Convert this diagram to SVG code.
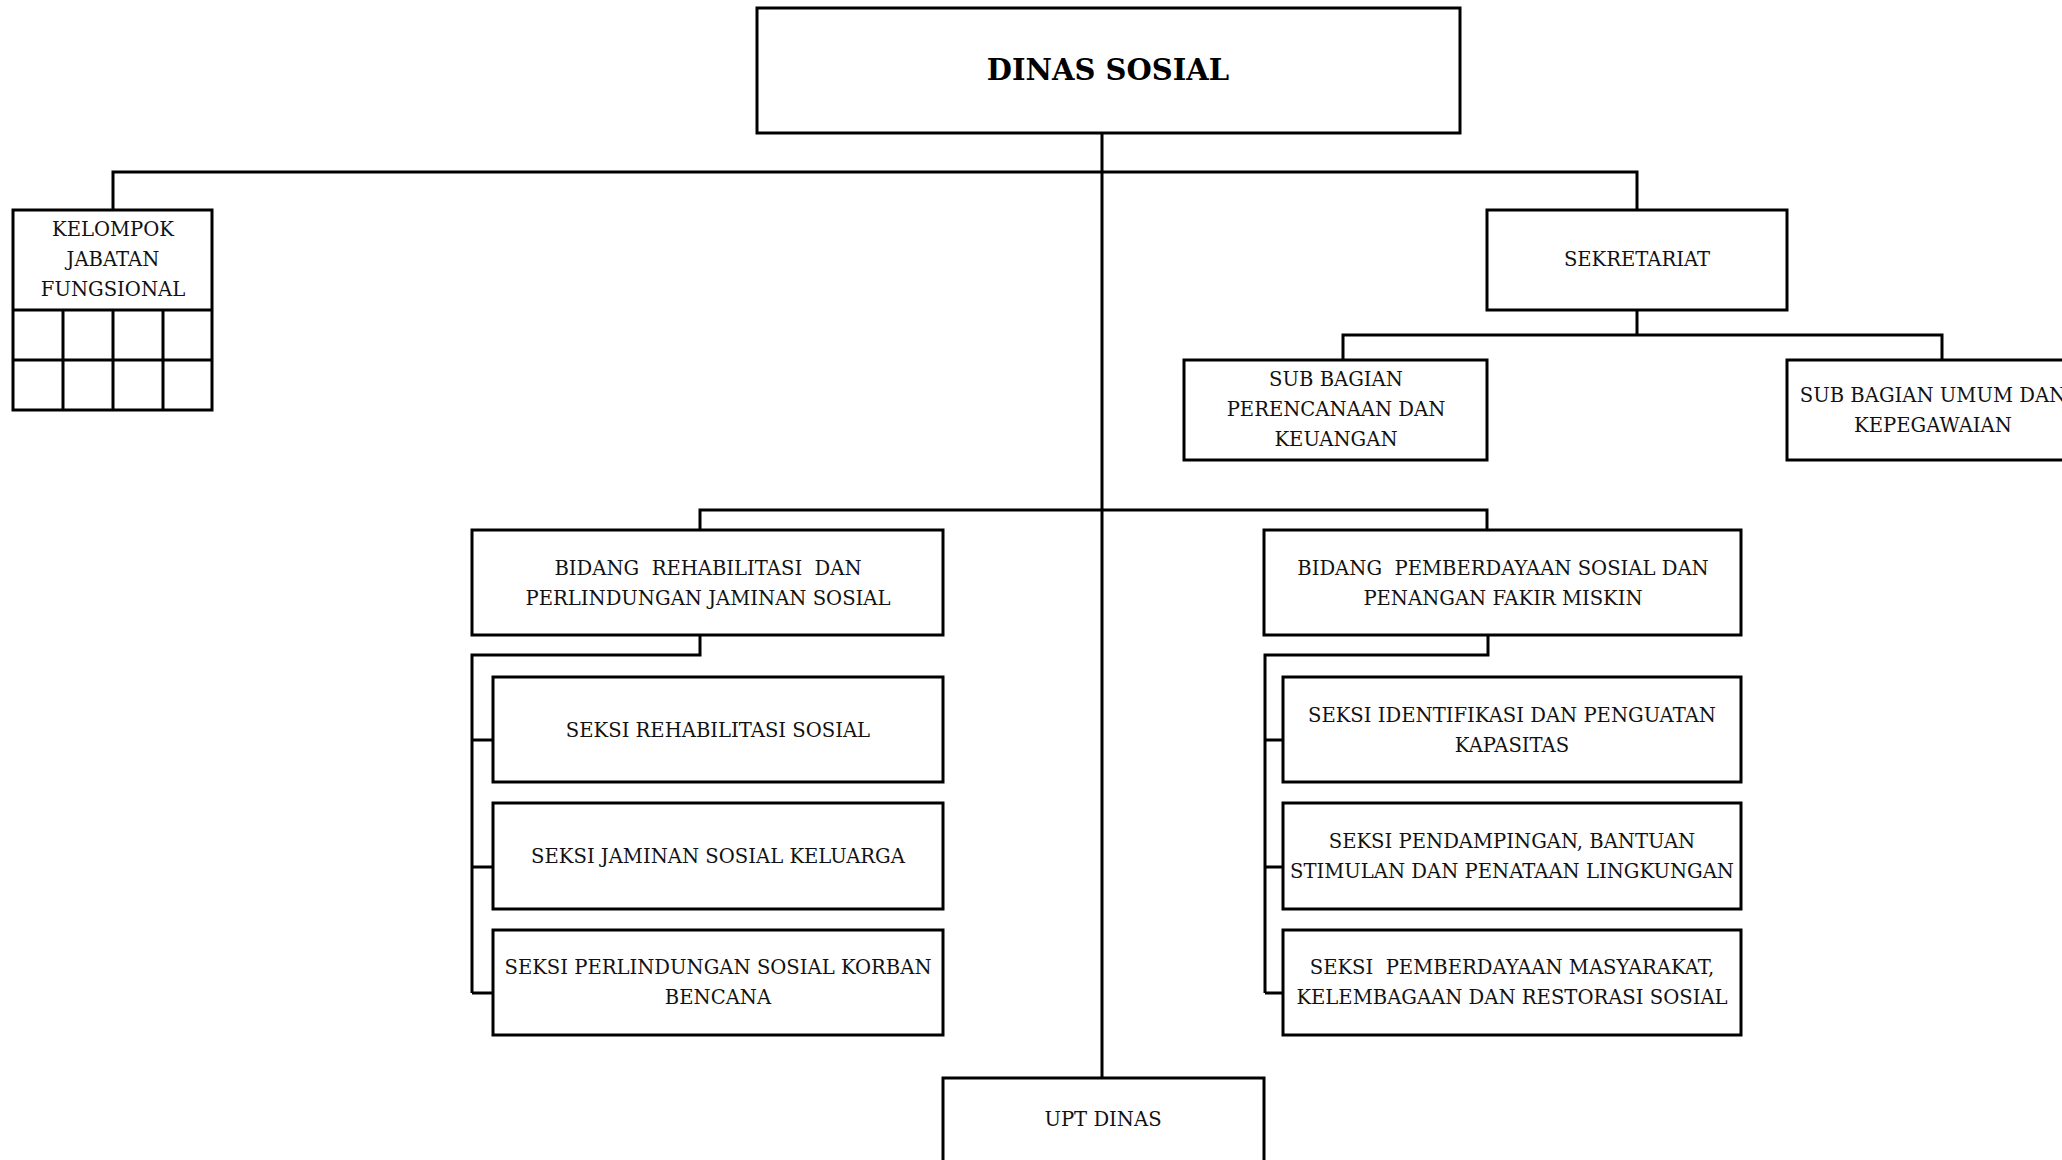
<svg xmlns="http://www.w3.org/2000/svg" width="2062" height="1160" viewBox="0 0 2062 1160">
<style>
.box{fill:#fff;stroke:#000;stroke-width:3}
.ln{fill:none;stroke:#000;stroke-width:3}
.t{font-family:"DejaVu Serif","Liberation Serif",serif;font-size:19.6px;fill:#111;text-anchor:middle;white-space:pre}
.title{font-family:"DejaVu Serif","Liberation Serif",serif;font-size:29px;font-weight:bold;fill:#000;text-anchor:middle}
</style>
<rect width="2062" height="1160" fill="#fff"/>
<g id="connectors" class="ln">
<path d="M1102,133 V1078"/>
<path d="M113,210 V172 H1637 V210"/>
<path d="M1637,310 V335 M1343,360 V335 H1942 V360"/>
<path d="M700,530 V510 H1487 V530"/>
<path d="M700,635 V655 H472 V993 M472,740 H493 M472,867 H493 M472,993 H493"/>
<path d="M1488,635 V655 H1265 V993 M1265,740 H1283 M1265,867 H1283 M1265,993 H1283"/>
</g>
<g id="dinas-sosial">
<rect class="box" x="757" y="8" width="703" height="125"/>
<text class="title" x="1108" y="80">DINAS SOSIAL</text>
</g>
<g id="kelompok-jabatan-fungsional">
<rect class="box" x="13" y="210" width="199" height="200"/>
<path class="ln" d="M13,310 H212 M13,360 H212 M63,310 V410 M113,310 V410 M163,310 V410"/>
<text class="t" x="113" y="236">KELOMPOK</text>
<text class="t" x="113" y="266">JABATAN</text>
<text class="t" x="113" y="296">FUNGSIONAL</text>
</g>
<g id="sekretariat">
<rect class="box" x="1487" y="210" width="300" height="100"/>
<text class="t" x="1637" y="266">SEKRETARIAT</text>
</g>
<g id="sub-bagian-perencanaan">
<rect class="box" x="1184" y="360" width="303" height="100"/>
<text class="t" x="1336" y="386">SUB BAGIAN</text>
<text class="t" x="1336" y="416">PERENCANAAN DAN</text>
<text class="t" x="1336" y="446">KEUANGAN</text>
</g>
<g id="sub-bagian-umum">
<rect class="box" x="1787" y="360" width="300" height="100"/>
<text class="t" x="1933" y="402">SUB BAGIAN UMUM DAN</text>
<text class="t" x="1933" y="432">KEPEGAWAIAN</text>
</g>
<g id="bidang-rehabilitasi">
<rect class="box" x="472" y="530" width="471" height="105"/>
<text class="t" x="708" y="575">BIDANG  REHABILITASI  DAN</text>
<text class="t" x="708" y="605">PERLINDUNGAN JAMINAN SOSIAL</text>
</g>
<g id="bidang-pemberdayaan">
<rect class="box" x="1264" y="530" width="477" height="105"/>
<text class="t" x="1503" y="575">BIDANG  PEMBERDAYAAN SOSIAL DAN</text>
<text class="t" x="1503" y="605">PENANGAN FAKIR MISKIN</text>
</g>
<g id="seksi-rehabilitasi-sosial">
<rect class="box" x="493" y="677" width="450" height="105"/>
<text class="t" x="718" y="737">SEKSI REHABILITASI SOSIAL</text>
</g>
<g id="seksi-jaminan-sosial-keluarga">
<rect class="box" x="493" y="803" width="450" height="106"/>
<text class="t" x="718" y="863">SEKSI JAMINAN SOSIAL KELUARGA</text>
</g>
<g id="seksi-perlindungan-sosial">
<rect class="box" x="493" y="930" width="450" height="105"/>
<text class="t" x="718" y="974">SEKSI PERLINDUNGAN SOSIAL KORBAN</text>
<text class="t" x="718" y="1004">BENCANA</text>
</g>
<g id="seksi-identifikasi">
<rect class="box" x="1283" y="677" width="458" height="105"/>
<text class="t" x="1512" y="722">SEKSI IDENTIFIKASI DAN PENGUATAN</text>
<text class="t" x="1512" y="752">KAPASITAS</text>
</g>
<g id="seksi-pendampingan">
<rect class="box" x="1283" y="803" width="458" height="106"/>
<text class="t" x="1512" y="848">SEKSI PENDAMPINGAN, BANTUAN</text>
<text class="t" x="1512" y="878">STIMULAN DAN PENATAAN LINGKUNGAN</text>
</g>
<g id="seksi-pemberdayaan-masyarakat">
<rect class="box" x="1283" y="930" width="458" height="105"/>
<text class="t" x="1512" y="974">SEKSI  PEMBERDAYAAN MASYARAKAT,</text>
<text class="t" x="1512" y="1004">KELEMBAGAAN DAN RESTORASI SOSIAL</text>
</g>
<g id="upt-dinas">
<rect class="box" x="943" y="1078" width="321" height="120"/>
<text class="t" x="1103" y="1126">UPT DINAS</text>
</g>
</svg>
